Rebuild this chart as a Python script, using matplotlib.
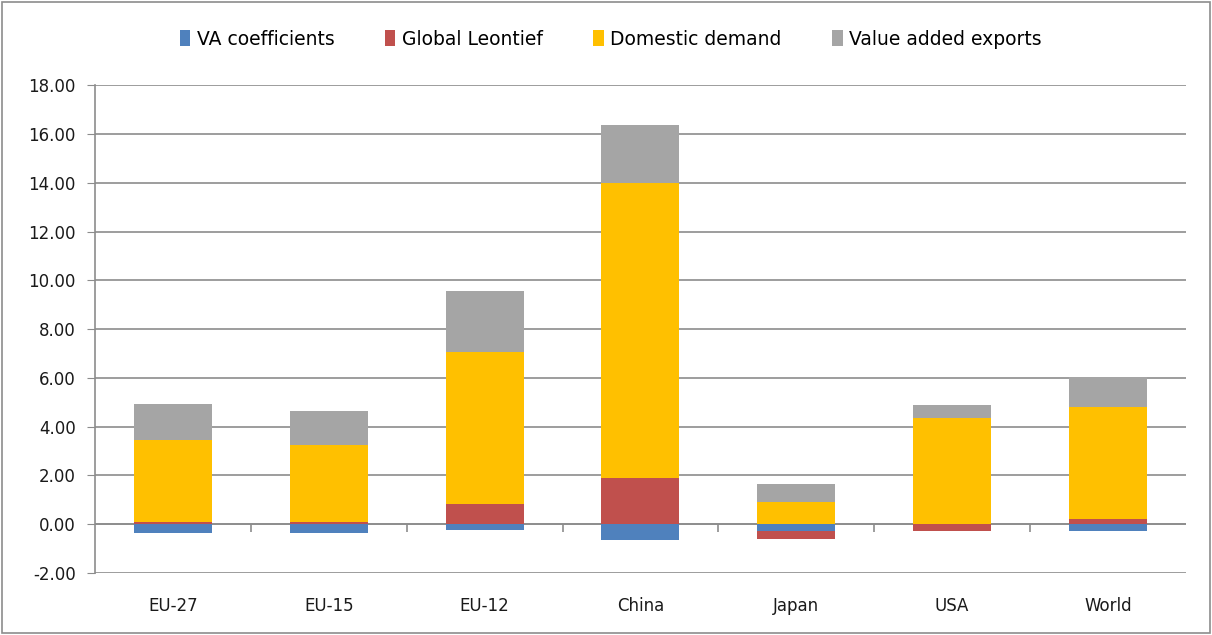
import matplotlib.pyplot as plt
from matplotlib.patches import Rectangle
import numpy as np

regiones = ['EU-27', 'EU-15', 'EU-12', 'China', 'Japan', 'USA', 'World']
va_coef = [-0.35, -0.35, -0.22, -0.64, -0.29, 0.00, -0.29]
global_leontief = [0.08, 0.08, 0.84, 1.88, -0.30, -0.29, 0.23]
domestic_demand = [3.36, 3.17, 6.24, 12.12, 0.90, 4.34, 4.57]
va_exports = [1.48, 1.39, 2.50, 2.37, 0.74, 0.54, 1.22]

series = [('VA coefficients', va_coef, '#4F81BD'),
          ('Global Leontief', global_leontief, '#C0504D'),
          ('Domestic demand', domestic_demand, '#FFC000'),
          ('Value added exports', va_exports, '#A5A5A5')]

plt.rcParams['font.family'] = ['DejaVu Sans']

fig = plt.figure(figsize=(12.12, 6.35), dpi=100)
ax = fig.add_axes([0.0784, 0.0976, 0.9, 0.768])

x = np.arange(len(regiones))
pos_base = np.zeros(len(regiones))
neg_base = np.zeros(len(regiones))

# apilar positivos hacia arriba y negativos hacia abajo
for nombre, valores, color in series:
    v = np.array(valores)
    base = np.where(v >= 0, pos_base, neg_base)
    ax.bar(x, v, bottom=base, width=0.5, color=color, label=nombre, zorder=3)
    pos_base = pos_base + np.where(v >= 0, v, 0)
    neg_base = neg_base + np.where(v < 0, v, 0)

ax.set_xlim(-0.5, len(regiones) - 0.5)
ax.set_ylim(-2, 18)
ax.set_yticks(np.arange(-2, 18.1, 2))
ax.set_yticklabels([f'{t:.2f}' for t in np.arange(-2, 18.1, 2)])
ax.yaxis.grid(True, color='#8C8C8C', linewidth=1.2, zorder=0)
ax.set_axisbelow(True)

for s in ['top', 'right', 'bottom']:
    ax.spines[s].set_visible(False)
ax.spines['left'].set_color('#8C8C8C')
ax.spines['left'].set_linewidth(1.2)

ax.tick_params(axis='y', length=6, color='#8C8C8C', labelsize=12, pad=8,
               labelcolor='#1A1A1A')
ax.set_xticks(x)
ax.set_xticklabels(regiones)
ax.tick_params(axis='x', length=0, labelsize=12, pad=17, labelcolor='#1A1A1A')

# linea de cero con marcas entre categorias
ax.axhline(0, color='#8C8C8C', linewidth=1.2, zorder=2)
ax.vlines(x[:-1] + 0.5, -0.32, 0, color='#8C8C8C', linewidth=1.2, zorder=2)

leg = fig.legend(loc='upper center', bbox_to_anchor=(0.504, 0.98), ncol=4,
                 frameon=False, fontsize=13.5, handlelength=0.55,
                 handleheight=0.9, handletextpad=0.35, columnspacing=2.7)

# borde del grafico
fig.patches.append(Rectangle((0.002, 0.003), 0.996, 0.994, transform=fig.transFigure,
                             fill=False, edgecolor='#8C8C8C', linewidth=1.2))

fig.savefig('out.png', dpi=100)
